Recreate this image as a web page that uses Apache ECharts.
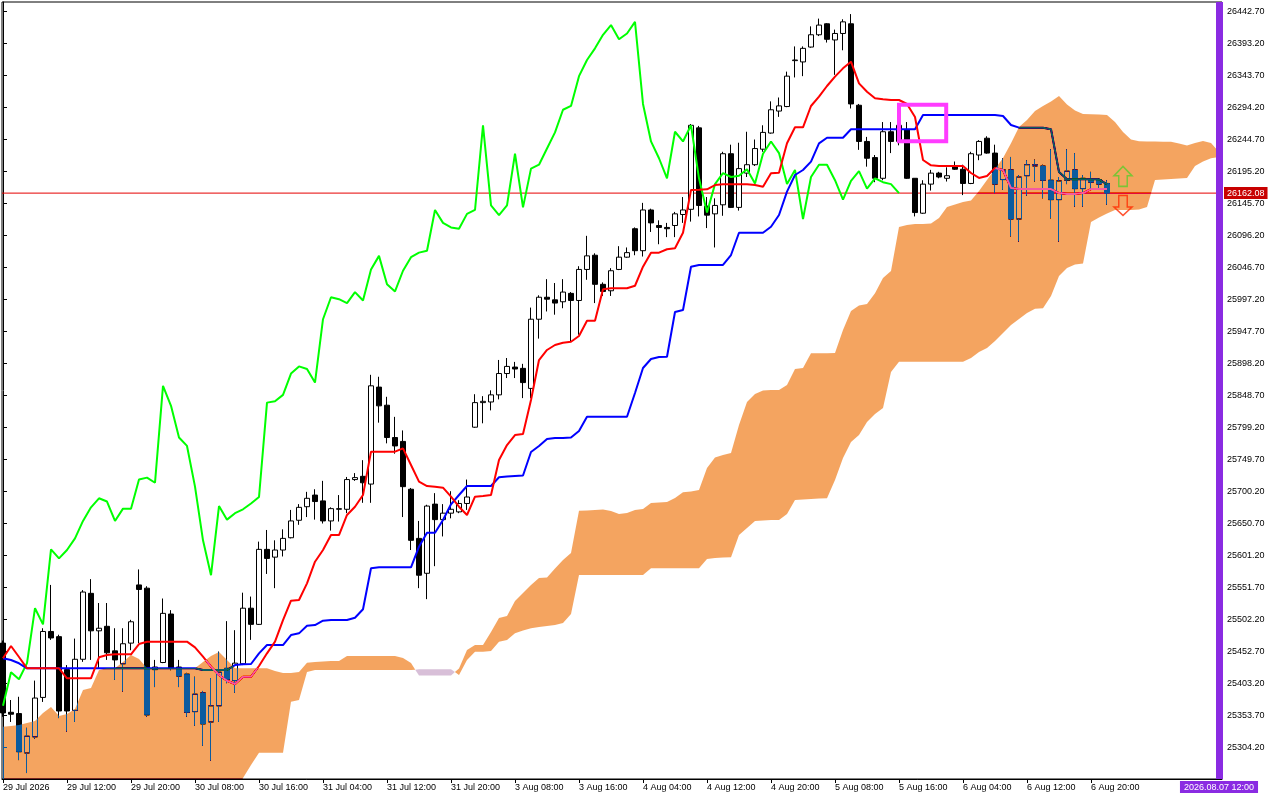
<!DOCTYPE html>
<html>
<head>
<meta charset="utf-8">
<script src="https://cdn.jsdelivr.net/npm/echarts/dist/echarts.min.js"></script>
<style>
html,body{margin:0;padding:0;background:#fff;}
#chart{width:1280px;height:800px;}
</style>
</head>
<body>
<div id="chart"></div>
<script>
// ---- Data (H1 bars from 29 Jul 2026 04:00, index = bar number) ----
const xTickIdx = [0,8,16,24,32,40,48,56,64,72,80,88,96,104,112,120,128,136];
const xTickLabels = ['29 Jul 2026','29 Jul 12:00','29 Jul 20:00','30 Jul 08:00','30 Jul 16:00','31 Jul 04:00','31 Jul 12:00','31 Jul 20:00','3 Aug 08:00','3 Aug 16:00','4 Aug 04:00','4 Aug 12:00','4 Aug 20:00','5 Aug 08:00','5 Aug 16:00','6 Aug 04:00','6 Aug 12:00','6 Aug 20:00'];
const yTicks = [25304.2,25353.7,25403.2,25452.7,25502.2,25551.7,25601.2,25650.7,25700.2,25749.7,25799.2,25848.7,25898.2,25947.7,25997.2,26046.7,26096.2,26145.7,26195.2,26244.7,26294.2,26343.7,26393.2,26442.7];

const opens = [25466,25359,25357,25296,25321,25382,25484,25476,25425,25362,
25441,25543,25485,25492,25454,25434,25466,25556,25551,25425,
25436,25511,25429,25418,25360,25389,25344,25369,25427,25408,
25434,25520,25495,25611,25599,25610,25629,25656,25677,25695,
25686,25655,25673,25673,25719,25724,25712,25862,25834,25784,
25778,25704,25628,25574,25681,25657,25667,25669,25682,25800,
25838,25839,25850,25883,25893,25891,25860,25967,26001,25997,
25994,26007,25996,26044,26066,26021,26011,26044,26063,26107,
26073,26136,26112,26109,26112,26129,26137,26263,26142,26130,
26144,26223,26140,26193,26206,26230,26255,26289,26296,26367,
26365,26388,26407,26424,26399,26409,26424,26298,26242,26217,
26185,26257,26242,26260,26185,26131,26176,26193,26185,26203,
26199,26177,26221,26247,26224,26183,26198,26122,26189,26204,
26204,26182,26152,26182,26198,26169,26183,26183,26177];
const closes = [25358,25356,25298,25322,25381,25484,25474,25361,25361,25441,
25545,25485,25489,25451,25440,25465,25499,25549,25355,25429,
25512,25427,25415,25359,25387,25341,25369,25421,25410,25435,
25520,25495,25611,25597,25610,25628,25655,25676,25690,25685,
25655,25674,25674,25719,25722,25714,25864,25833,25784,25771,
25708,25625,25571,25678,25657,25667,25673,25682,25692,25838,
25840,25850,25883,25894,25890,25869,25967,26001,25998,25992,
26009,25996,26044,26065,26021,26010,26042,26063,26070,26073,
26136,26116,26109,26107,26130,26136,26267,26143,26128,26143,
26223,26140,26200,26206,26231,26256,26291,26297,26343,26368,
26386,26407,26422,26400,26409,26427,26300,26242,26216,26185,
26257,26242,26267,26185,26132,26176,26193,26187,26189,26199,
26177,26223,26242,26224,26176,26198,26122,26187,26206,26206,
26182,26152,26181,26196,26169,26185,26179,26176,26162.08];
const lows = [25352,25344,25285,25265,25318,25375,25471,25350,25329,25344,
25437,25440,25427,25440,25409,25391,25455,25466,25352,25398,
25435,25424,25398,25352,25338,25307,25284,25344,25404,25389,
25432,25471,25494,25573,25551,25600,25628,25649,25661,25657,
25651,25640,25654,25667,25717,25683,25683,25807,25775,25759,
25661,25610,25551,25534,25585,25631,25659,25667,25672,25799,
25806,25826,25843,25876,25876,25845,25845,25937,25979,25974,
25984,25932,25943,26028,25992,26003,26003,26043,26062,26066,
26064,26102,26083,26094,26094,26116,26118,26126,26108,26078,
26127,26139,26135,26187,26204,26226,26254,26280,26295,26341,
26343,26387,26405,26395,26345,26383,26293,26229,26203,26179,
26182,26224,26236,26184,26126,26130,26166,26185,26180,26198,
26159,26176,26213,26223,26162,26167,26095,26087,26158,26180,
26154,26123,26087,26176,26141,26141,26167,26167,26144];
const highs = [25470,25378,25383,25335,25408,25489,25556,25479,25432,25473,
25548,25565,25528,25528,25489,25489,25502,25580,25554,25440,
25535,25517,25440,25420,25414,25392,25412,25453,25500,25486,
25544,25538,25623,25641,25625,25642,25672,25681,25700,25704,
25717,25676,25695,25723,25729,25749,25881,25878,25847,25816,
25795,25706,25655,25680,25698,25681,25701,25687,25719,25851,
25848,25857,25904,25907,25901,25898,25985,26004,26029,26023,
26029,26009,26049,26096,26069,26024,26046,26080,26078,26109,
26147,26138,26120,26116,26133,26156,26269,26266,26156,26154,
26226,26237,26240,26257,26245,26267,26304,26310,26350,26389,
26389,26420,26432,26425,26415,26431,26439,26300,26249,26221,
26272,26272,26274,26272,26185,26182,26198,26195,26202,26211,
26206,26226,26244,26250,26237,26216,26218,26190,26213,26214,
26206,26230,26187,26230,26224,26190,26195,26185,26182];

const tenkan = [25442.5,25461.5,25444.5,25427,25427,25427,25427,25427,25411.5,25411.5,
25411.5,25411.5,25444,25447.6,25448.6,25448.6,25448.6,25464.6,25468.2,25468.2,
25468.2,25468.2,25468.2,25468.2,25459.5,25445,25429.5,25416.6,25407.8,25402.7,
25414,25414,25430.6,25450.2,25468.2,25501.7,25531.6,25532.7,25558.5,25591.9,
25610,25633.2,25633.2,25664.2,25677,25695.1,25762.1,25762.1,25762.1,25762.1,
25767.3,25741.5,25715.7,25709,25707.9,25706.4,25692.5,25677,25664.2,25692.5,
25693.5,25695.1,25749.2,25772.4,25787.9,25789.4,25842,25903.9,25919.4,25927.1,
25930.7,25932.2,25941,25964.7,25964.7,26013.3,26014.8,26014.8,26014.8,26018.8,
26048.2,26069.9,26069.9,26075.2,26076.7,26100.8,26166.9,26167.4,26168,26174.6,
26175.7,26175.7,26175.7,26175.7,26174.6,26172,26192.7,26193.6,26239.1,26263.9,
26263.9,26296.8,26311.2,26327.8,26342.2,26355.1,26365.4,26331.9,26318.9,26308.7,
26307.2,26306.1,26306.1,26299.9,26279.8,26213.3,26205,26204,26204,26204,
26204,26193.2,26185.5,26188.5,26200.9,26197.8,26170,26168.4,26168.4,26168.4,
26168.4,26168.4,26162.2,26160.7,26160.7,26162.2,26168.4,26168.4,26168.4];
const kijun = [25442.5,25439.8,25434.8,25427,25427,25427,25427,25427,25427,25427,
25427,25427,25427,25427,25427,25427,25427,25427,25427,25427,
25427,25427,25427,25427,25427,25424.4,25424.4,25424.4,25424.4,25432.1,
25433.2,25433.7,25450.2,25463,25463,25463,25478.5,25481.1,25492.9,25494,
25500.6,25501.7,25501.7,25501.7,25505.3,25518.3,25581.7,25583.2,25583.2,25583.2,
25583.2,25583.2,25615.1,25636.7,25636.7,25656.4,25680.7,25695.1,25709,25709,
25709,25709,25722.5,25723.7,25724.5,25725.3,25761.6,25770.9,25781.7,25783.3,
25783.3,25784,25794.1,25816.2,25816.2,25816.2,25816.2,25816.2,25816.2,25852.9,
25891.5,25905.5,25908.6,25909,25978.2,25981.3,26048.2,26050.9,26050.9,26050.9,
26050.9,26066.3,26100.8,26100.8,26100.8,26100.8,26110.1,26128.2,26164.3,26190.1,
26197.8,26210.7,26239.1,26247.8,26247.8,26247.8,26260.8,26260.8,26260.8,26260.8,
26260.8,26260.8,26260.8,26260.8,26260.8,26282.9,26282.9,26282.9,26282.9,26282.9,
26282.9,26282.9,26282.9,26282.9,26282.9,26281.4,26267.4,26263.3,26263.3,26263.3,
26263.3,26261,26194.7,26183.4,26183.4,26183.4,26183.4,26183.4,26175.7];

// Senkou spans (already displaced 26 bars forward), indices 0..152
const senkouA = [25336.7,25337.8,25339.3,25342.4,25345.5,25357.9,25367.1,25353.2,25356.3,25364.0,
25393.4,25396.5,25424.4,25427.0,25427.0,25436.8,25447.6,25441.4,25427.0,25427.0,
25427.0,25427.0,25427.0,25427.0,25427.0,25436.8,25446.0,25452.2,25439.8,25427.0,
25427.0,25427.0,25427.0,25427.0,25422.8,25419.7,25419.7,25421.3,25435.7,25436.8,
25437.5,25438.3,25438.3,25446.0,25446.0,25446.0,25446.0,25446.0,25446.0,25446.0,
25442.9,25435.2,25415.9,25415.9,25415.9,25415.9,25415.9,25426.7,25455.3,25463.0,
25463.0,25483.2,25504.8,25507.9,25531.1,25543.5,25555.9,25566.7,25567.5,25581.4,
25594.5,25605.4,25670.8,25671.1,25671.9,25672.7,25670.3,25665.7,25667.2,25671.9,
25673.4,25682.7,25683.5,25684.3,25690.4,25699.3,25700.5,25702.8,25736.9,25753.1,
25757.0,25760.1,25803.4,25838.9,25851.3,25856.7,25857.5,25857.5,25865.2,25890.0,
25891.5,25914.3,25914.3,25914.3,25914.7,25950.3,25979.7,25988.2,25990.5,26007.1,
26030.8,26041.6,26109.7,26112.7,26114.3,26114.3,26115.1,26123.6,26140.6,26144.5,
26148.3,26150.6,26165.3,26182.4,26199.4,26216.4,26239.1,26264.3,26275.2,26289.1,
26296.8,26303.8,26312.3,26299.1,26289.9,26284.5,26284.1,26283.5,26282.9,26272.1,
26256.6,26245.0,26242.2,26241.9,26241.9,26241.6,26241.6,26238.8,26235.7,26239.6,
26242.7,26239.6,26225.7];
const senkouB = [25230,25230,25230,25230,25230,25230,25230,25230,25230,25230,
25230,25230,25230,25230,25230,25230,25230,25230,25230,25230,
25230,25230,25230,25230,25230,25230,25230,25230,25230,25230,
25257.3,25277.4,25296.4,25296.4,25296.4,25296.4,25375.3,25378.0,25421.3,25424.4,
25424.4,25424.4,25424.4,25424.4,25424.4,25424.4,25424.4,25424.4,25424.4,25424.4,
25424.4,25424.4,25425.5,25425.5,25425.5,25425.5,25425.5,25416.6,25439.8,25452.7,
25452.7,25453.8,25468.2,25470.8,25481.2,25485.5,25488.9,25490.9,25492.4,25494.0,
25497.1,25511.0,25571.3,25571.3,25571.3,25571.3,25571.3,25571.3,25571.3,25571.3,
25571.3,25581.7,25581.7,25581.7,25581.7,25581.7,25581.7,25581.7,25596.1,25597.6,
25598.4,25598.7,25633.2,25644.0,25654.9,25655.6,25656.4,25656.4,25665.7,25687.3,
25688.1,25688.9,25689.7,25690.0,25718.3,25752.3,25777.1,25787.9,25808.0,25820.4,
25829.7,25885.4,25901.3,25901.3,25901.3,25901.3,25901.3,25901.3,25901.3,25901.3,
25901.3,25907.0,25916.3,25922.5,25933.3,25945.7,25958.1,25967.3,25976.6,25983.3,
25983.9,26002.9,26033.9,26046.2,26051.6,26053.2,26117.4,26124.3,26130.5,26136.0,
26136.0,26136.0,26136.7,26140.6,26182.4,26183.1,26183.9,26184.7,26185.5,26204.0,
26211.0,26215.9,26217.9];

const CHIKOU_SHIFT = 26;
const lastPrice = 26162.08;
const upArrows = [[140, 26188]];
const downArrows = [[140, 26143]];
const rectBox = [[112, 26298.8, 117.9, 26242.2]];
const vLineIndex = 152;
const vLineText = '2026.08.07 12:00';

// ---- Build series data ----
const X_MIN = -0.125, X_MAX = 152.375;
const candleData = opens.map((o, i) => [i, o, closes[i], lows[i], highs[i]]);
const tenkanData = tenkan.map((v, i) => [i, v]);
const kijunData = kijun.map((v, i) => [i, v]);
const chikouData = closes.slice(CHIKOU_SHIFT).map((v, i) => [i, v]);
const cloudData = senkouA.map((a, i) => [i, a, senkouB[i]]);
const priceLineData = [[X_MIN, lastPrice], [X_MAX, lastPrice]];

function cloudRuns() {
  const runs = [];
  let cur = null;
  for (let i = 0; i < senkouA.length; i++) {
    const a = senkouA[i], b = senkouB[i];
    const s = a >= b ? 1 : -1;
    if (!cur) { cur = { s, pts: [[i, a, b]] }; continue; }
    if (s !== cur.s) {
      const pa = senkouA[i - 1], pb = senkouB[i - 1];
      const d0 = pa - pb, d1 = a - b;
      const t = d0 / (d0 - d1);
      const x = i - 1 + t, y = pa + (a - pa) * t;
      cur.pts.push([x, y, y]);
      runs.push(cur);
      cur = { s, pts: [[x, y, y], [i, a, b]] };
    } else {
      cur.pts.push([i, a, b]);
    }
  }
  runs.push(cur);
  return runs;
}
const runs = cloudRuns();

const FONT = 'Liberation Sans, Arial, sans-serif';

const chart = echarts.init(document.getElementById('chart'));
chart.setOption({
  backgroundColor: '#ffffff',
  animation: false,
  grid: { left: 2, right: 58, top: 2, bottom: 21, show: true, borderColor: '#000', borderWidth: 1, backgroundColor: 'transparent' },
  xAxis: {
    type: 'value', min: X_MIN, max: X_MAX,
    axisLine: { show: true, lineStyle: { color: '#000', width: 1 } },
    axisTick: { show: true, customValues: xTickIdx, length: 4, lineStyle: { color: '#000' } },
    axisLabel: {
      customValues: xTickIdx,
      formatter: v => { const k = xTickIdx.indexOf(v); return k >= 0 ? xTickLabels[k] : ''; },
      align: 'left', fontSize: 9, fontFamily: FONT, color: '#000', margin: 4
    },
    splitLine: { show: false }
  },
  yAxis: {
    type: 'value', position: 'right', min: 25255.8, max: 26457.7, scale: true,
    axisLine: { show: true, lineStyle: { color: '#000', width: 1 } },
    axisTick: { show: true, customValues: yTicks, length: 4, lineStyle: { color: '#000' } },
    axisLabel: {
      customValues: yTicks,
      formatter: v => Number(v).toFixed(2),
      fontSize: 9, fontFamily: FONT, color: '#000', margin: 5
    },
    splitLine: { show: false }
  },
  series: [
    {
      name: 'price', type: 'line', z: 2, data: priceLineData, symbol: 'none', silent: true,
      lineStyle: { color: '#e60000', width: 1 },
      endLabel: {
        show: true, formatter: () => lastPrice.toFixed(2), color: '#fff', backgroundColor: '#c80000',
        padding: [2, 3, 1, 3], fontSize: 9, fontFamily: FONT, distance: 2
      }
    },
    {
      name: 'candles', type: 'candlestick', z: 2, data: candleData, barWidth: 5, silent: true,
      itemStyle: { color: '#ffffff', color0: '#000000', borderColor: '#000000', borderColor0: '#000000', borderWidth: 1 }
    },
    { name: 'Chikou', type: 'line', z: 3, data: chikouData, symbol: 'none', silent: true, lineStyle: { color: '#00ff00', width: 2 } },
    { name: 'Kijun', type: 'line', z: 3, data: kijunData, symbol: 'none', silent: true, lineStyle: { color: '#0000ff', width: 2 } },
    { name: 'Tenkan', type: 'line', z: 3, data: tenkanData, symbol: 'none', silent: true, lineStyle: { color: '#ff0000', width: 2 } },
    {
      name: 'Kumo', type: 'custom', z: 4, data: cloudData, clip: true, silent: true,
      blendMode: 'difference',
      encode: { x: 0, y: [1, 2] },
      renderItem: (params, api) => {
        if (params.dataIndex !== 0) return null;
        const children = runs.map(run => {
          const upper = run.pts.map(p => api.coord([p[0], p[1]]));
          const lower = run.pts.map(p => api.coord([p[0], p[2]])).reverse();
          return {
            type: 'polygon', shape: { points: upper.concat(lower) },
            style: { fill: run.s > 0 ? '#0b5b9f' : '#274027', blend: 'difference' }
          };
        });
        return { type: 'group', children };
      }
    },
    {
      name: 'box', type: 'custom', z: 8, data: rectBox, silent: true,
      encode: { x: [0, 2], y: [1, 3] },
      renderItem: (params, api) => {
        const p0 = api.coord([api.value(0), api.value(1)]);
        const p1 = api.coord([api.value(2), api.value(3)]);
        return {
          type: 'rect',
          shape: { x: p0[0], y: p0[1], width: p1[0] - p0[0], height: p1[1] - p0[1] },
          style: { fill: 'none', stroke: '#ff3cff', lineWidth: 4 }
        };
      }
    },
    {
      name: 'up', type: 'scatter', z: 10, data: upArrows, silent: true,
      symbol: 'path://M8.5,0 L17,9 L12.5,9 L12.5,19 L4.5,19 L4.5,9 L0,9 Z', symbolSize: [18, 20],
      itemStyle: { color: 'rgba(0,0,0,0)', borderColor: '#5ccc2c', borderWidth: 1.5 },
      markLine: {
        silent: true, symbol: ['none', 'none'],
        lineStyle: { color: '#8a2be2', width: 7, type: 'solid' },
        label: {
          show: true, position: 'start', formatter: vLineText, color: '#fff', backgroundColor: '#8a2be2',
          padding: [2, 4, 1, 4], fontSize: 9, fontFamily: FONT, distance: 2
        },
        data: [{ xAxis: vLineIndex }]
      }
    },
    {
      name: 'down', type: 'scatter', z: 10, data: downArrows, silent: true,
      symbol: 'path://M4.5,0 L12.5,0 L12.5,11 L17,11 L8.5,19 L0,11 L4.5,11 Z', symbolSize: [18, 20],
      itemStyle: { color: 'rgba(0,0,0,0)', borderColor: '#ff2a00', borderWidth: 1.5 }
    }
  ]
});
</script>
</body>
</html>
